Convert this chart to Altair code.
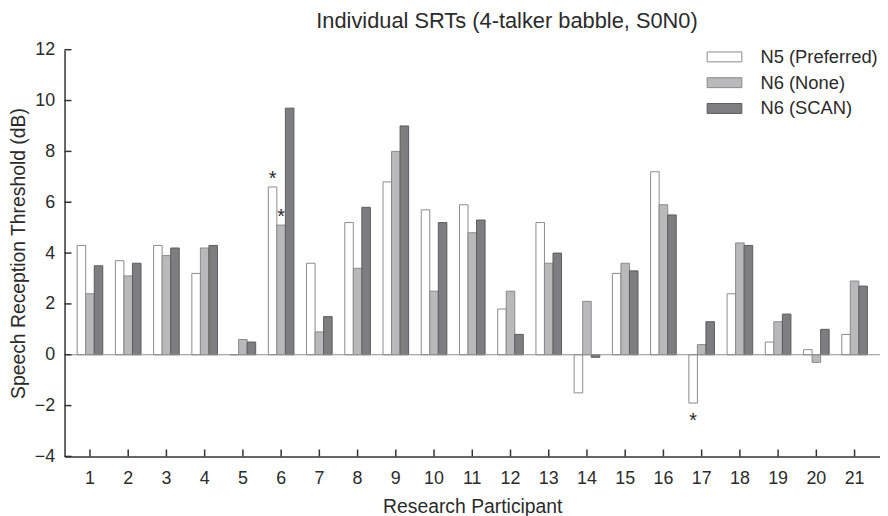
import altair as alt
import pandas as pd

participants = list(range(1, 22))
series_names = ["N5 (Preferred)", "N6 (None)", "N6 (SCAN)"]
n5_preferred = [4.3, 3.7, 4.3, 3.2, 0.0, 6.6, 3.6, 5.2, 6.8, 5.7, 5.9, 1.8, 5.2, -1.5, 3.2, 7.2, -1.9, 2.4, 0.5, 0.2, 0.8]
n6_none = [2.4, 3.1, 3.9, 4.2, 0.6, 5.1, 0.9, 3.4, 8.0, 2.5, 4.8, 2.5, 3.6, 2.1, 3.6, 5.9, 0.4, 4.4, 1.3, -0.3, 2.9]
n6_scan = [3.5, 3.6, 4.2, 4.3, 0.5, 9.7, 1.5, 5.8, 9.0, 5.2, 5.3, 0.8, 4.0, -0.1, 3.3, 5.5, 1.3, 4.3, 1.6, 1.0, 2.7]
y_ticks = [-4, -2, 0, 2, 4, 6, 8, 10, 12]

# significance markers
star_above_p = [6, 6]
star_above_s = ["N5 (Preferred)", "N6 (None)"]
star_above_v = [6.6, 5.1]
star_below_p = [17]
star_below_s = ["N5 (Preferred)"]
star_below_v = [-1.9]

fills = ["#ffffff", "#b9b9bc", "#7e7e82"]
strokes = ["#8a8a8a", "#8a8a8a", "#5c5c5c"]
FONT = "Liberation Sans"
TXT = "#2b2b2b"

rows = []
for name, vals in zip(series_names, [n5_preferred, n6_none, n6_scan]):
    for p, v in zip(participants, vals):
        rows.append({"Participant": p, "Series": name, "SRT": v})
df = pd.DataFrame(rows)

above = pd.DataFrame({"Participant": star_above_p, "Series": star_above_s, "SRT": star_above_v, "t": ["*"] * len(star_above_p)})
below = pd.DataFrame({"Participant": star_below_p, "Series": star_below_s, "SRT": star_below_v, "t": ["*"] * len(star_below_p)})
yt = pd.DataFrame({"SRT": y_ticks})
xt = pd.DataFrame({"Participant": participants})
zt = pd.DataFrame({"SRT": [0]})

W, H = 822, 410

yscale = alt.Scale(domain=[-4, 12], nice=False, zero=False)
xscale = alt.Scale(paddingInner=0.33, paddingOuter=0.33)
xoff = alt.XOffset("Series:N", sort=series_names, scale=alt.Scale(paddingInner=0, paddingOuter=0))

xaxis = alt.Axis(title="Research Participant", labelAngle=0, ticks=False,
                 labelPadding=13, titlePadding=11)
yaxis = alt.Axis(title="Speech Reception Threshold (dB)", values=y_ticks,
                 ticks=False, grid=False, labelPadding=10, titlePadding=6)


def X(**kw):
    return alt.X("Participant:O", scale=xscale, sort=participants, axis=xaxis, **kw)


def Y():
    return alt.Y("SRT:Q", scale=yscale, axis=yaxis)


bars = alt.Chart(df).mark_bar(strokeWidth=1).encode(
    x=X(),
    xOffset=xoff,
    y=Y(),
    fill=alt.Fill("Series:N", sort=series_names,
                  scale=alt.Scale(domain=series_names, range=fills),
                  legend=alt.Legend(title=None, orient="none", legendX=656, legendY=-2,
                                    symbolType="M-3.5,-1H3.5V1H-3.5Z", symbolSize=100,
                                    symbolStrokeWidth=1, labelOffset=27, rowPadding=7,
                                    labelFontSize=18.5, labelFont=FONT, labelColor=TXT,
                                    labelLimit=300, padding=0)),
    stroke=alt.Stroke("Series:N", sort=series_names,
                      scale=alt.Scale(domain=series_names, range=strokes), legend=None),
)

zero = alt.Chart(zt).mark_rule(color="#8f8f8f", strokeWidth=1.2).encode(y=Y())

star_up = alt.Chart(above).mark_text(fontSize=20, font=FONT, color=TXT, baseline="alphabetic", dy=-2).encode(
    x=X(), xOffset=xoff, y=Y(), text="t:N",
)
star_down = alt.Chart(below).mark_text(fontSize=20, font=FONT, color=TXT, baseline="alphabetic", dy=24).encode(
    x=X(), xOffset=xoff, y=Y(), text="t:N",
)

ytick = alt.Chart(yt).mark_rule(color="#333333", strokeWidth=1.5).encode(
    y=Y(), x=alt.value(0), x2=alt.value(7),
)
xtick = alt.Chart(xt).mark_rule(color="#333333", strokeWidth=1.5).encode(
    x=X(bandPosition=0.5), y=alt.value(H), y2=alt.value(H - 7),
)

chart = alt.layer(bars, zero, star_up, star_down, ytick, xtick).properties(
    width=W, height=H,
    autosize=alt.AutoSizeParams(type="none"),
    padding={"left": 57, "top": 40, "right": 0, "bottom": 58},
    title=alt.TitleParams(
        "Individual SRTs (4-talker babble, S0N0)",
        font=FONT, fontSize=22, fontWeight="normal", color=TXT,
        anchor="middle", frame="group", dx=35, dy=27, offset=18, baseline="alphabetic",
    ),
).configure_view(stroke=None).configure_axis(
    labelFont=FONT, titleFont=FONT, labelFontSize=18, titleFontSize=19.5,
    labelColor=TXT, titleColor=TXT, titleFontWeight="normal",
    domainColor="#333333", domainWidth=1.5,
)

chart.save("out.html", embed_options={"renderer": "svg", "actions": False})
